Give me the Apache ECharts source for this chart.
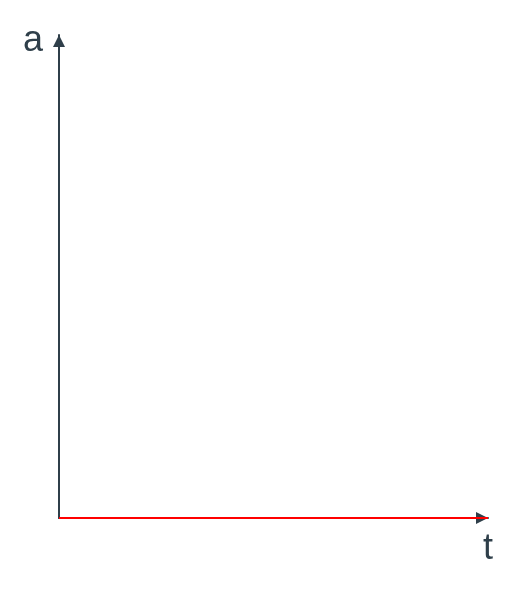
<!DOCTYPE html>
<html>
<head>
<meta charset="utf-8">
<script src="https://cdn.jsdelivr.net/npm/echarts@6/dist/echarts.min.js"></script>
<style>html,body{margin:0;padding:0;background:#fff}#c{width:516px;height:593px}</style>
</head>
<body>
<div id="c"></div>
<script>
var tValues = [0, 10];
var aValues = [0, 0];
var axisNames = ['t', 'a'];

var axisColor = '#2f3f4a';
var chart = echarts.init(document.getElementById('c'), null, {renderer: 'canvas'});
chart.setOption({
  animation: false,
  grid: {left: 59, right: 28, top: 35, bottom: 75},
  xAxis: {
    type: 'value', min: 0, max: 10,
    name: axisNames[0], nameLocation: 'end', nameGap: 0,
    nameTextStyle: {fontFamily: 'Liberation Sans', fontSize: 36, color: axisColor, align: 'center', verticalAlign: 'top', padding: [13, 0, 0, 0]},
    axisLine: {show: true, symbol: ['none', 'triangle'], symbolSize: [12, 12], symbolOffset: [0, -6], lineStyle: {color: axisColor, width: 2}},
    axisTick: {show: false}, axisLabel: {show: false}, splitLine: {show: false}
  },
  yAxis: {
    type: 'value', min: 0, max: 10,
    name: axisNames[1], nameLocation: 'end', nameGap: -6,
    nameTextStyle: {fontFamily: 'Liberation Sans', fontSize: 36, color: axisColor, align: 'right', verticalAlign: 'middle', padding: [0, 16, 0, 0]},
    axisLine: {show: true, symbol: ['none', 'triangle'], symbolSize: [12, 12], symbolOffset: [0, -6], lineStyle: {color: axisColor, width: 2}},
    axisTick: {show: false}, axisLabel: {show: false}, splitLine: {show: false}
  },
  series: [{
    type: 'line',
    data: tValues.map(function (t, i) { return [t, aValues[i]]; }),
    showSymbol: false, symbol: 'none',
    lineStyle: {color: '#ff0000', width: 2},
    z: 1
  }]
});
</script>
</body>
</html>
